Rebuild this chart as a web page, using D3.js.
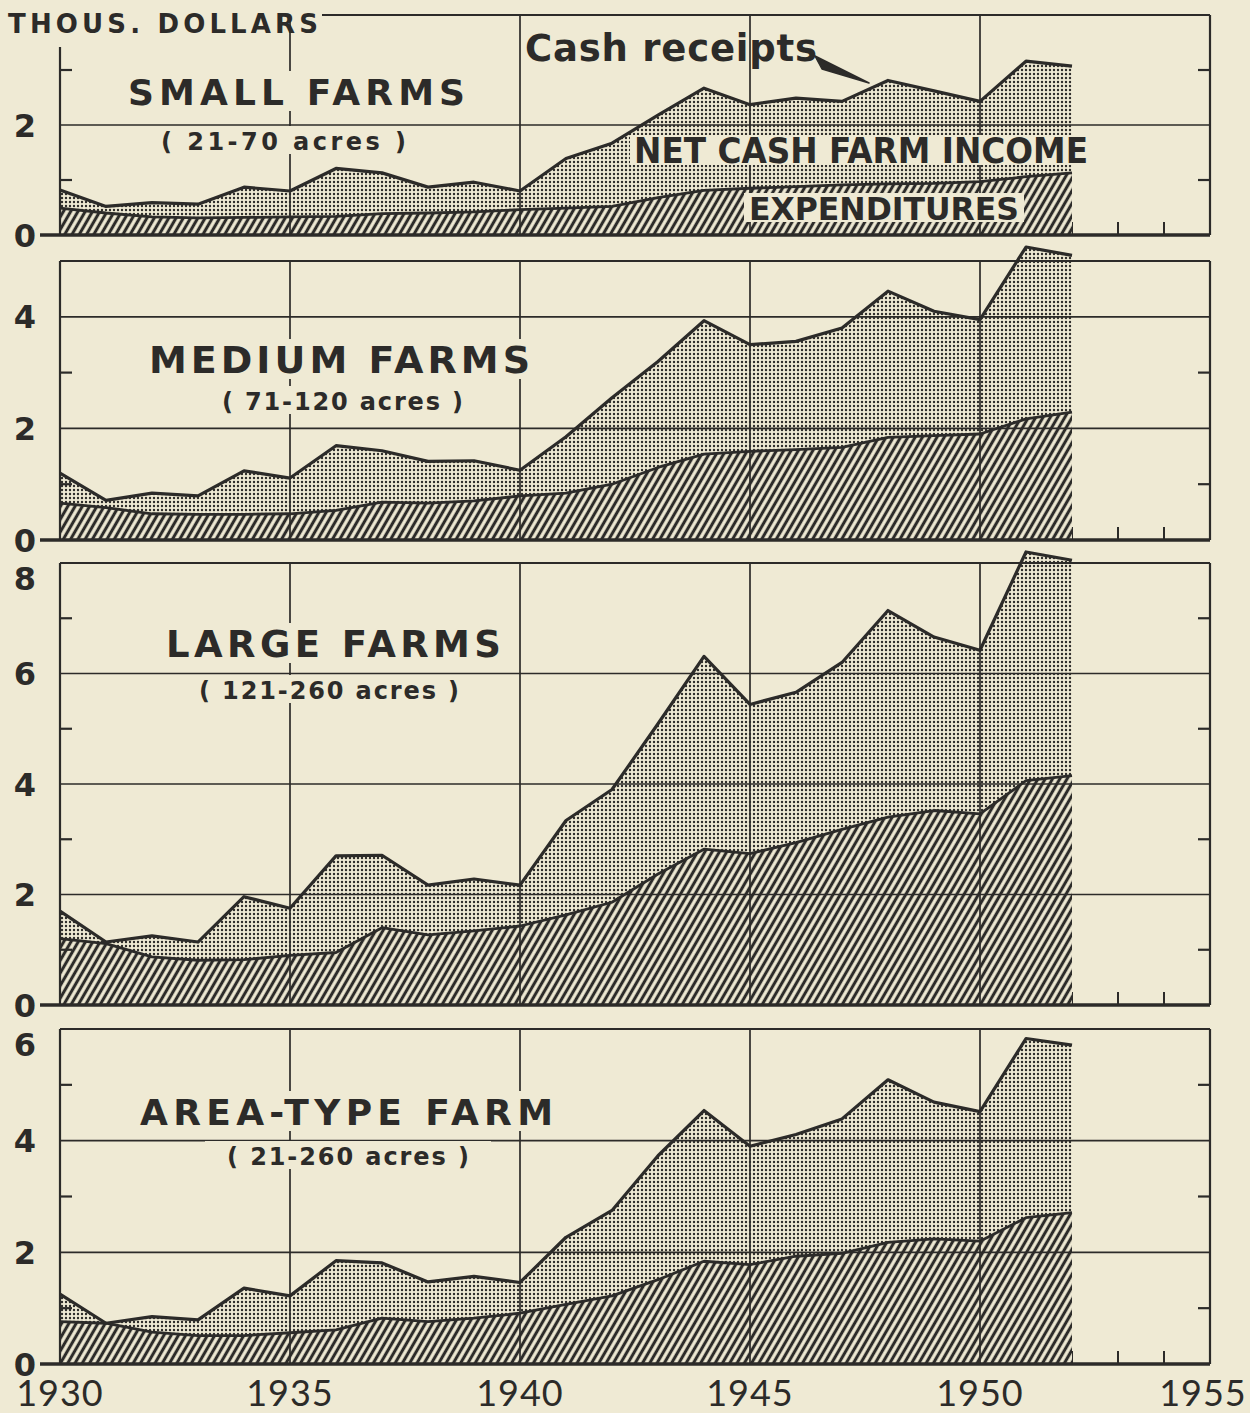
<!DOCTYPE html>
<html>
<head>
<meta charset="utf-8">
<script src="https://cdn.jsdelivr.net/npm/d3@7"></script>
<style>
  body { margin: 0; background: #efead4; }
  svg { display: block; }
</style>
</head>
<body>
<svg></svg>
<script>
// Data: cash receipts and expenditures per farm, thousand dollars
const years = [1930, 1931, 1932, 1933, 1934, 1935, 1936, 1937, 1938, 1939, 1940,
  1941, 1942, 1943, 1944, 1945, 1946, 1947, 1948, 1949, 1950, 1951, 1952]

const smallReceipts = [0.82, 0.52, 0.59, 0.56, 0.87, 0.8, 1.21, 1.13, 0.87, 0.96, 0.8,
  1.39, 1.67, 2.18, 2.67, 2.37, 2.49, 2.43, 2.81, 2.62, 2.43, 3.16, 3.07]
const smallExpenditures = [0.49, 0.4, 0.33, 0.31, 0.32, 0.33, 0.34, 0.39, 0.4, 0.42, 0.46,
  0.49, 0.52, 0.68, 0.81, 0.85, 0.88, 0.91, 0.93, 0.94, 0.97, 1.06, 1.13]

const mediumReceipts = [1.2, 0.71, 0.84, 0.79, 1.24, 1.11, 1.69, 1.6, 1.41, 1.42, 1.25,
  1.85, 2.55, 3.2, 3.93, 3.5, 3.56, 3.8, 4.46, 4.1, 3.95, 5.25, 5.1]
const mediumExpenditures = [0.66, 0.58, 0.47, 0.46, 0.46, 0.47, 0.53, 0.68, 0.66, 0.7, 0.79,
  0.84, 1.0, 1.3, 1.54, 1.59, 1.62, 1.66, 1.84, 1.87, 1.9, 2.17, 2.29]

const largeReceipts = [1.7, 1.14, 1.25, 1.14, 1.96, 1.75, 2.7, 2.71, 2.17, 2.28, 2.17,
  3.34, 3.9, 5.09, 6.31, 5.44, 5.66, 6.2, 7.14, 6.66, 6.42, 8.2, 8.05]
const largeExpenditures = [1.2, 1.11, 0.87, 0.81, 0.82, 0.9, 0.95, 1.4, 1.27, 1.34, 1.43,
  1.63, 1.86, 2.37, 2.82, 2.74, 2.94, 3.18, 3.4, 3.52, 3.46, 4.06, 4.15]

const areaReceipts = [1.25, 0.73, 0.85, 0.79, 1.36, 1.22, 1.85, 1.81, 1.47, 1.57, 1.46,
  2.27, 2.75, 3.73, 4.54, 3.9, 4.11, 4.39, 5.09, 4.69, 4.52, 5.83, 5.71]
const areaExpenditures = [0.76, 0.73, 0.57, 0.51, 0.51, 0.56, 0.61, 0.82, 0.76, 0.82, 0.91,
  1.07, 1.22, 1.51, 1.84, 1.78, 1.93, 1.98, 2.18, 2.24, 2.2, 2.62, 2.71]

const yearLabels = ['1930', '1935', '1940', '1945', '1950', '1955']

// Panel layout
const panels = [
  { name: 'SMALL FARMS', acres: '( 21-70 acres )', receipts: smallReceipts, expenditures: smallExpenditures,
    max: 4, top: 15, zero: 235, axisTop: 47, frameLeft: 322, labels: [0, 2],
    title: [128, 465, 105, 36], sub: [161, 406, 150] },
  { name: 'MEDIUM FARMS', acres: '( 71-120 acres )', receipts: mediumReceipts, expenditures: mediumExpenditures,
    max: 5, top: 261, zero: 540, labels: [0, 2, 4],
    title: [149, 530, 373, 38], sub: [222, 463, 410] },
  { name: 'LARGE FARMS', acres: '( 121-260 acres )', receipts: largeReceipts, expenditures: largeExpenditures,
    max: 8, top: 563, zero: 1005, labels: [0, 2, 4, 6, 8],
    title: [166, 501, 657, 37], sub: [199, 459, 699] },
  { name: 'AREA-TYPE FARM', acres: '( 21-260 acres )', receipts: areaReceipts, expenditures: areaExpenditures,
    max: 6, top: 1029, zero: 1364, labels: [0, 2, 4, 6],
    title: [140, 553, 1125, 36], sub: [227, 469, 1165] },
]

const ink = '#2c2b29'
const paper = '#efead4'
const heavy = '"DejaVu Sans", Lato, sans-serif'
const narrow = '"DejaVu Sans Condensed", "DejaVu Sans", sans-serif'
const light = 'Lato, "Open Sans", sans-serif'
const left = 60
const right = 1210

const svg = d3.select('svg').attr('width', 1250).attr('height', 1413)
svg.append('rect').attr('width', 1250).attr('height', 1413).attr('fill', paper)

// Fill patterns
const defs = svg.append('defs')
const dots = defs
  .append('pattern')
  .attr('id', 'dots')
  .attr('patternUnits', 'userSpaceOnUse')
  .attr('width', 4)
  .attr('height', 4)
dots.append('rect').attr('width', 4).attr('height', 4).attr('fill', paper)
dots.append('circle').attr('cx', 2).attr('cy', 2).attr('r', 1.2).attr('fill', ink)

const hatch = defs
  .append('pattern')
  .attr('id', 'hatch')
  .attr('patternUnits', 'userSpaceOnUse')
  .attr('width', 6.3)
  .attr('height', 10)
  .attr('patternTransform', 'rotate(30)')
hatch.append('rect').attr('width', 6.3).attr('height', 10).attr('fill', paper)
hatch
  .append('line')
  .attr('x1', 3.15)
  .attr('x2', 3.15)
  .attr('y1', -1)
  .attr('y2', 11)
  .attr('stroke', ink)
  .attr('stroke-width', 3.1)

const x = d3.scaleLinear().domain([1930, 1955]).range([left, right])
const minorYears = d3.range(1931, 1955).filter((d) => d % 5 !== 0)
const majorYears = [1935, 1940, 1945, 1950]

panels.forEach((p) => {
  const y = d3.scaleLinear().domain([0, p.max]).range([p.zero, p.top])
  const g = svg.append('g')

  // year ticks on the base line (mostly hidden by the fills)
  g.selectAll('.year-tick')
    .data(minorYears)
    .join('line')
    .attr('x1', (d) => x(d))
    .attr('x2', (d) => x(d))
    .attr('y1', p.zero)
    .attr('y2', p.zero - 13)
    .attr('stroke', ink)
    .attr('stroke-width', 2)

  const area = d3
    .area()
    .x((d, i) => x(years[i]))
    .y0(p.zero)
    .y1((d) => y(d))
  const line = d3
    .line()
    .x((d, i) => x(years[i]))
    .y((d) => y(d))

  g.append('path').datum(p.receipts).attr('d', area).attr('fill', 'url(#dots)')
  g.append('path').datum(p.expenditures).attr('d', area).attr('fill', 'url(#hatch)')

  // grid on top of the fills
  g.selectAll('.hgrid')
    .data(d3.range(2, p.max, 2))
    .join('line')
    .attr('x1', left)
    .attr('x2', right)
    .attr('y1', (d) => y(d))
    .attr('y2', (d) => y(d))
    .attr('stroke', ink)
    .attr('stroke-width', 1.7)
  g.selectAll('.vgrid')
    .data(majorYears)
    .join('line')
    .attr('x1', (d) => x(d))
    .attr('x2', (d) => x(d))
    .attr('y1', p.top)
    .attr('y2', p.zero)
    .attr('stroke', ink)
    .attr('stroke-width', 1.7)

  // frame
  const frame = g.append('g').attr('stroke', ink).attr('stroke-width', 2.2).attr('fill', 'none')
  frame.append('line').attr('x1', left).attr('x2', left).attr('y1', p.axisTop || p.top).attr('y2', p.zero)
  frame.append('line').attr('x1', right).attr('x2', right).attr('y1', p.top).attr('y2', p.zero)
  frame.append('line').attr('x1', p.frameLeft || left).attr('x2', right).attr('y1', p.top).attr('y2', p.top)

  const minor = d3.range(1, p.max, 2)
  frame.selectAll('.lt').data(minor).join('line')
    .attr('x1', left).attr('x2', left + 12).attr('y1', (d) => y(d)).attr('y2', (d) => y(d))
  frame.selectAll('.rt').data(minor).join('line')
    .attr('x1', right - 12).attr('x2', right).attr('y1', (d) => y(d)).attr('y2', (d) => y(d))

  // outlines of the two series
  g.append('path').datum(p.expenditures).attr('d', line)
    .attr('fill', 'none').attr('stroke', ink).attr('stroke-width', 2.8).attr('stroke-linejoin', 'round')
  g.append('path').datum(p.receipts).attr('d', line)
    .attr('fill', 'none').attr('stroke', ink).attr('stroke-width', 3.2).attr('stroke-linejoin', 'round')

  // base line
  g.append('line')
    .attr('x1', 40).attr('x2', right)
    .attr('y1', p.zero).attr('y2', p.zero)
    .attr('stroke', ink).attr('stroke-width', 3.6)

  // value labels (the top one hangs below the frame)
  g.selectAll('.ylab')
    .data(p.labels)
    .join('text')
    .attr('x', 25)
    .attr('y', (d) => (d === p.max ? p.top + 27 : y(d)))
    .attr('dy', (d) => (d === p.max ? 0 : '0.36em'))
    .attr('text-anchor', 'middle')
    .attr('font-family', heavy)
    .attr('font-weight', 700)
    .attr('font-size', 32)
    .attr('fill', ink)
    .text((d) => d)

  // panel title with knocked-out background
  const [tx0, tx1, tb, ts] = p.title
  const [sx0, sx1, sb] = p.sub
  g.append('rect').attr('x', tx0 - 8).attr('y', tb - 34).attr('width', tx1 - tx0 + 16).attr('height', 40).attr('fill', paper)
  g.append('rect').attr('x', sx0 - 22).attr('y', sb - 24).attr('width', sx1 - sx0 + 44).attr('height', 28).attr('fill', paper)
  g.append('text')
    .attr('x', tx0).attr('y', tb)
    .attr('textLength', tx1 - tx0).attr('lengthAdjust', 'spacing')
    .attr('font-family', heavy).attr('font-weight', 700).attr('font-size', ts)
    .attr('fill', ink)
    .text(p.name)
  g.append('text')
    .attr('x', sx0).attr('y', sb)
    .attr('textLength', sx1 - sx0).attr('lengthAdjust', 'spacing')
    .attr('font-family', heavy).attr('font-weight', 700).attr('font-size', 24)
    .attr('fill', ink)
    .text(p.acres)
})

// unit label
svg.append('text')
  .attr('x', 8).attr('y', 33)
  .attr('textLength', 310).attr('lengthAdjust', 'spacing')
  .attr('font-family', heavy).attr('font-weight', 700).attr('font-size', 26)
  .attr('fill', ink)
  .text('THOUS. DOLLARS')

// series annotations in the first panel
svg.append('text')
  .attr('x', 525).attr('y', 61)
  .attr('textLength', 292).attr('lengthAdjust', 'spacing')
  .attr('font-family', heavy).attr('font-weight', 700).attr('font-size', 37)
  .attr('fill', ink)
  .text('Cash receipts')
svg.append('polygon')
  .attr('points', '815,56 822,69 869,83')
  .attr('fill', ink)
  .attr('stroke', ink)
  .attr('stroke-width', 1.5)
  .attr('stroke-linejoin', 'round')

svg.append('rect').attr('x', 630).attr('y', 135).attr('width', 462).attr('height', 30).attr('fill', paper)
svg.append('text')
  .attr('x', 634).attr('y', 163)
  .attr('textLength', 454).attr('lengthAdjust', 'spacingAndGlyphs')
  .attr('font-family', narrow).attr('font-weight', 700).attr('font-size', 36)
  .attr('fill', ink)
  .text('NET CASH FARM INCOME')

svg.append('rect').attr('x', 744).attr('y', 193).attr('width', 280).attr('height', 29).attr('fill', paper)
svg.append('text')
  .attr('x', 749).attr('y', 220)
  .attr('textLength', 270).attr('lengthAdjust', 'spacingAndGlyphs')
  .attr('font-family', narrow).attr('font-weight', 700).attr('font-size', 32)
  .attr('fill', ink)
  .text('EXPENDITURES')

// year labels under the last panel
svg.selectAll('.xlab')
  .data(yearLabels)
  .join('text')
  .attr('x', (d) => Math.min(x(+d), 1203))
  .attr('y', 1406)
  .attr('text-anchor', 'middle')
  .attr('font-family', light)
  .attr('font-size', 36)
  .attr('letter-spacing', 1)
  .attr('fill', ink)
  .text((d) => d)
</script>
</body>
</html>
